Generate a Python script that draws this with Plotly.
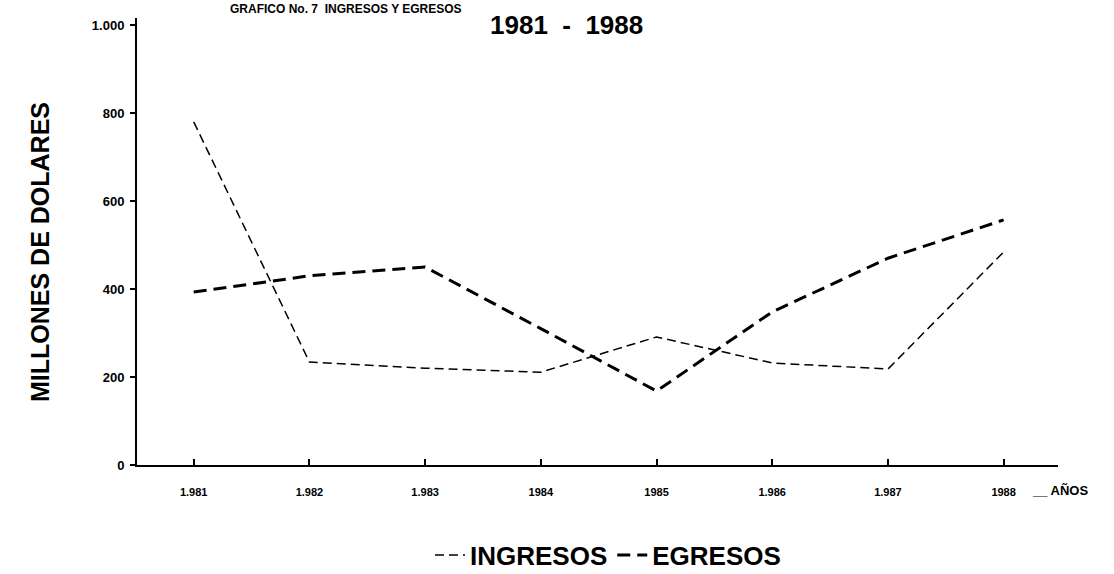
import plotly.graph_objects as go

years = [1981, 1982, 1983, 1984, 1985, 1986, 1987, 1988]
year_labels = ["1.981", "1.982", "1.983", "1984", "1985", "1.986", "1.987", "1988"]
ingresos = [780, 234, 220, 211, 291, 232, 218, 484]
egresos = [393, 430, 450, 310, 168, 348, 470, 557]
y_ticks = [0, 200, 400, 600, 800, 1000]
y_tick_labels = ["0", "200", "400", "600", "800", "1.000"]

FONT = "Liberation Sans, Arial, sans-serif"

# page geometry of the plot area (px)
L, R, T, B = 137, 56, 18, 109
PW, PH = 1114 - L - R, 574 - T - B

fig = go.Figure()
fig.add_trace(go.Scatter(
    x=years, y=ingresos, mode="lines", name="INGRESOS",
    line=dict(color="black", width=1.5, dash="9px,5px"),
))
fig.add_trace(go.Scatter(
    x=years, y=egresos, mode="lines", name="EGRESOS",
    line=dict(color="black", width=3, dash="13px,7px"),
))

fig.update_layout(
    width=1114, height=574,
    margin=dict(l=L, r=R, t=T, b=B, autoexpand=False),
    paper_bgcolor="white", plot_bgcolor="white",
    showlegend=True,
    legend=dict(orientation="h", x=(608 - L) / PW, xanchor="center",
                y=-(555 - (T + PH)) / PH, yanchor="middle",
                font=dict(family=FONT, size=26, color="black", weight="bold"),
                itemwidth=30, bgcolor="rgba(0,0,0,0)"),
    xaxis=dict(
        range=[1980.51, 1988.47], tickmode="array", tickvals=years, ticktext=year_labels,
        showgrid=False, zeroline=False, showline=True, linecolor="black", linewidth=1.5,
        ticks="inside", ticklen=6, tickwidth=1.5, tickcolor="black",
        ticklabelstandoff=16, automargin=False,
        tickfont=dict(family=FONT, size=11, color="black", weight="bold"),
    ),
    yaxis=dict(
        range=[0, 1016], tickmode="array", tickvals=y_ticks, ticktext=y_tick_labels,
        showgrid=False, zeroline=False, showline=True, linecolor="black", linewidth=2,
        ticks="outside", ticklen=5, tickwidth=1.5, tickcolor="black",
        ticklabelstandoff=3, automargin=False,
        tickfont=dict(family=FONT, size=13, color="black", weight="bold"),
    ),
    annotations=[
        dict(text="GRAFICO No. 7  INGRESOS Y EGRESOS", xref="paper", yref="paper",
             x=(228 - L) / PW, y=1 + T / PH, xanchor="left", yanchor="top", showarrow=False,
             font=dict(family=FONT, size=12, color="black", weight="bold")),
        dict(text="1981  -  1988", xref="paper", yref="paper",
             x=(566 - L) / PW, y=1 + (T - 25) / PH, xanchor="center", yanchor="middle",
             showarrow=False,
             font=dict(family=FONT, size=26, color="black", weight="bold")),
        dict(text="MILLONES DE DOLARES", xref="paper", yref="paper",
             x=(40 - L) / PW, y=(T + PH - 252) / PH, xanchor="center", yanchor="middle",
             textangle=-90, showarrow=False,
             font=dict(family=FONT, size=25, color="black", weight="bold")),
        dict(text="__ AÑOS", xref="x", yref="y", x=1988, y=0, xshift=26, yshift=-25,
             xanchor="left", yanchor="middle", showarrow=False,
             font=dict(family=FONT, size=13, color="black", weight="bold")),
    ],
)

fig.write_html("out.html", config={"displayModeBar": False},
               post_script="document.body.style.margin='0px';")
